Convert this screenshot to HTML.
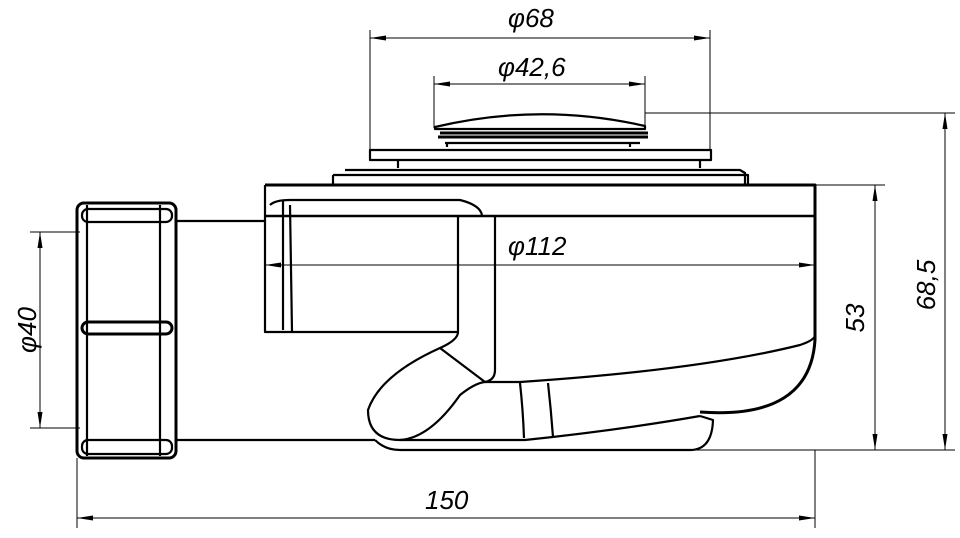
<!DOCTYPE html>
<html><head><meta charset="utf-8"><style>body{margin:0;background:#fff}svg{display:block}text{font-family:"Liberation Sans",sans-serif;font-style:italic;font-size:26px;fill:#000}</style></head><body>
<svg width="960" height="538" viewBox="0 0 960 538">
<defs><marker id="a" markerWidth="16" markerHeight="5" refX="16" refY="2.5" orient="auto-start-reverse" markerUnits="userSpaceOnUse"><path d="M0,0 L16,2.5 L0,5 Z"/></marker></defs>
<g stroke="#000" stroke-width="1" fill="none">
<path d="M370,30V150 M710,30V150 M434,76V128 M645,76V128 M645,113H955 M815,185H885 M690,450H955 M30,232H80 M30,428H80 M77,458V528 M815,450V528"/>
<line x1="370" y1="38" x2="710" y2="38" marker-start="url(#a)" marker-end="url(#a)"/>
<line x1="434" y1="84" x2="645" y2="84" marker-start="url(#a)" marker-end="url(#a)"/>
<line x1="265" y1="265" x2="815" y2="265" marker-start="url(#a)" marker-end="url(#a)"/>
<line x1="40" y1="232" x2="40" y2="428" marker-start="url(#a)" marker-end="url(#a)"/>
<line x1="875" y1="185" x2="875" y2="450" marker-start="url(#a)" marker-end="url(#a)"/>
<line x1="945" y1="113" x2="945" y2="450" marker-start="url(#a)" marker-end="url(#a)"/>
<line x1="77" y1="518" x2="815" y2="518" marker-start="url(#a)" marker-end="url(#a)"/>
</g>
<g stroke="#000" stroke-width="2.2" fill="none" stroke-linejoin="round">
<path d="M435,127 Q540,102 645,126 L645,129 L435,129 Z"/>
<path d="M440,133 H648 M438,137 H648" stroke-width="3"/>
<path d="M445,143 H640 M447,147 V143 M630,147 V143"/>
<rect x="370" y="150" width="341" height="10"/>
<path d="M398,160V168 M700,160V168"/>
<path d="M345,170 H740 L745,173 V184 M333,175 H748 V185 M333,175 V185"/>
<path d="M265,185 H815 V340 Q810,420 700,412" stroke-width="3"/>
<path d="M265,185 V332 H458 V216" />
<path d="M265,216 H815" stroke-width="2.5"/>
<path d="M270,205 Q275,200 290,200 H460 Q480,205 482,215"/>
<path d="M283,200 V330 M290,205 L292,332"/>
<path d="M495,216 V370 Q495,380 485,382"/>
<path d="M458,332 Q458,340 440,348 L485,382"/>
<path d="M440,348 Q380,375 368,410 Q368,440 400,440 Q430,438 460,395 Q475,383 485,382"/>
<path d="M485,382 H520 Q700,370 800,345 Q815,340 815,335"/>
<path d="M520,383 Q523,410 524,438 M548,383 Q551,410 553,437"/>
<path d="M400,440 H525 Q620,430 700,416"/>
<path d="M375,440 Q385,450 400,450 H690 Q712,450 713,420 L700,416"/>
<path d="M176,221 H265 M176,440 H375"/>
<rect x="77" y="203" width="99" height="255" rx="7" stroke-width="3"/>
<path d="M87,205 V456 M160,205 V456"/>
<rect x="82" y="209" width="90" height="13" rx="6"/>
<rect x="82" y="322" width="90" height="12" rx="6" stroke-width="3"/>
<rect x="82" y="440" width="90" height="14" rx="6"/>
</g>
<text x="508" y="27">φ68</text>
<text x="498" y="76">φ42,6</text>
<text x="508" y="255">φ112</text>
<text x="425" y="509">150</text>
<text transform="translate(36,330) rotate(-90)" text-anchor="middle">φ40</text>
<text transform="translate(864,318) rotate(-90)" text-anchor="middle">53</text>
<text transform="translate(935,285) rotate(-90)" text-anchor="middle">68,5</text>
</svg>
</body></html>
